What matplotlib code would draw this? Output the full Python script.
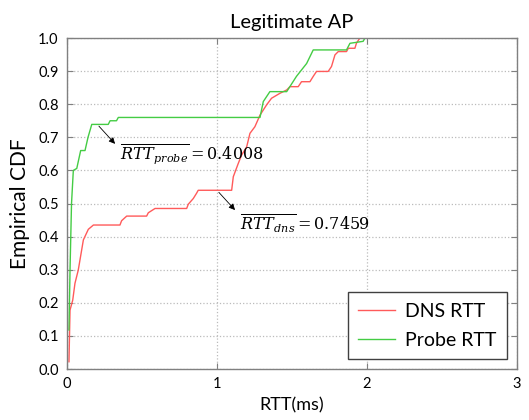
import numpy as np
import matplotlib
matplotlib.use('Agg')
import matplotlib.pyplot as plt

# CDF curves (RTT in ms, cumulative fraction)
dns_rtt = [0.013, 0.02, 0.038, 0.053, 0.075, 0.109, 0.142, 0.176, 0.353, 0.364, 0.398, 0.531,
           0.542, 0.587, 0.798, 0.809, 0.842, 0.864, 0.875, 1.098, 1.109, 1.142,
           1.164, 1.198, 1.22, 1.253, 1.287, 1.331, 1.364, 1.42, 1.465, 1.487, 1.542, 1.564,
           1.62, 1.642, 1.664, 1.742, 1.764, 1.787, 1.809, 1.864, 1.876, 1.92, 1.93, 1.953]
dns_cdf = [0.022, 0.178, 0.208, 0.259, 0.299, 0.39, 0.422, 0.435, 0.435, 0.448, 0.462, 0.462,
           0.472, 0.485, 0.485, 0.498, 0.515, 0.531, 0.54, 0.54, 0.581, 0.621,
           0.646, 0.671, 0.712, 0.732, 0.767, 0.798, 0.818, 0.833, 0.843, 0.853, 0.853, 0.868,
           0.868, 0.884, 0.899, 0.899, 0.914, 0.949, 0.959, 0.959, 0.969, 0.969, 0.984, 1.0]

probe_rtt = [0.013, 0.02, 0.03, 0.042, 0.065, 0.091, 0.12, 0.14, 0.165, 0.275, 0.287, 0.33,
             0.342, 1.287, 1.309, 1.353, 1.465, 1.53, 1.598, 1.642, 1.864, 1.887, 1.975, 1.987]
probe_cdf = [0.118, 0.3, 0.5, 0.60, 0.606, 0.66, 0.66, 0.70, 0.739, 0.739, 0.75, 0.75,
             0.76, 0.76, 0.808, 0.838, 0.838, 0.884, 0.923, 0.964, 0.964, 0.984, 0.99, 1.0]

probe_mean = 0.4008
dns_mean = 0.7459

xticks = [0, 1, 2, 3]
yticks = np.round(np.arange(0, 1.01, 0.1), 1)

plt.rcParams['font.family'] = ['Lato', 'DejaVu Sans']
plt.rcParams['mathtext.fontset'] = 'dejavuserif'

fig = plt.figure(figsize=(5.29, 4.20), dpi=100)
ax = fig.add_axes([0.1267, 0.1214, 0.8503, 0.7881])

ax.plot(dns_rtt, dns_cdf, color='#ff5a5a', lw=1.0, label='DNS RTT')
ax.plot(probe_rtt, probe_cdf, color='#44cc44', lw=1.0, label='Probe RTT')

ax.set_xlim(0, 3)
ax.set_ylim(0, 1)
ax.set_xticks(xticks)
ax.set_yticks(yticks)
ax.set_yticklabels(['%.1f' % v for v in yticks])
ax.tick_params(direction='in', length=4, labelsize=10.5, color='#808080',
               top=True, right=True, pad=6)
ax.grid(True, ls=':', color='#bbbbbb', lw=0.9)
for s in ax.spines.values():
    s.set_color('#808080')
    s.set_linewidth(1.0)

ax.set_title('Legitimate AP', fontsize=14.5, pad=7)
ax.set_xlabel('RTT(ms)', fontsize=13, labelpad=4)
ax.set_ylabel('Empirical CDF', fontsize=15, labelpad=6)

# mean annotations
ax.annotate('', xy=(0.333, 0.674), xytext=(0.2, 0.74),
            arrowprops=dict(arrowstyle='-|>', color='black', lw=0.6, mutation_scale=9))
ax.text(0.35, 0.65, r'$\overline{RTT_{probe}} = %.4f$' % probe_mean, fontsize=11.5,
        va='center', ha='left')
ax.annotate('', xy=(1.133, 0.474), xytext=(1.0, 0.54),
            arrowprops=dict(arrowstyle='-|>', color='black', lw=0.6, mutation_scale=9))
ax.text(1.155, 0.44, r'$\overline{RTT_{dns}} = %.4f$' % dns_mean, fontsize=11.5,
        va='center', ha='left')

leg = ax.legend(loc='lower right', fontsize=14, fancybox=False, edgecolor='#404040',
                framealpha=1, handlelength=1.9, handletextpad=0.5,
                labelspacing=0.6, borderpad=0.55, borderaxespad=0.5)
leg.get_frame().set_linewidth(1.0)

fig.savefig('out.png', dpi=100)
